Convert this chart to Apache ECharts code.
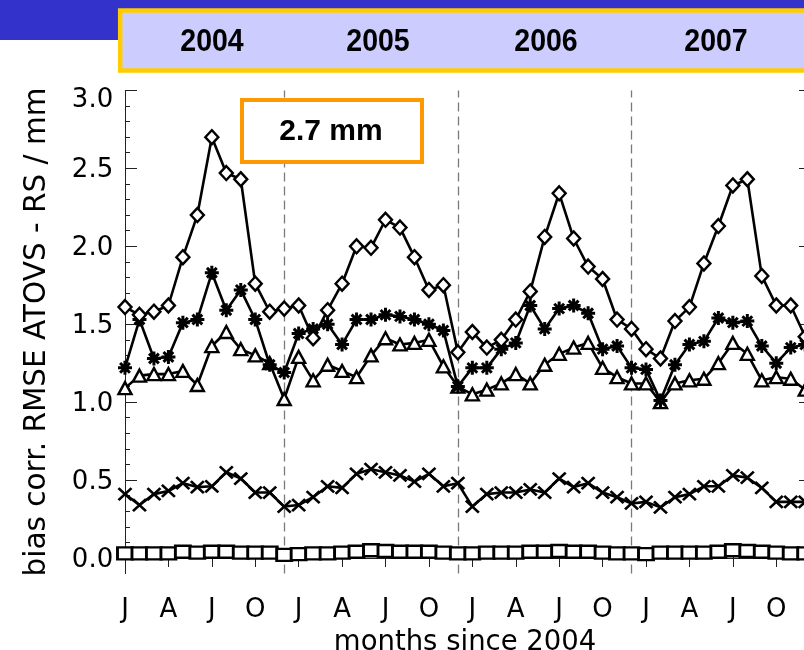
<!DOCTYPE html>
<html>
<head>
<meta charset="utf-8">
<title>bias corr. RMSE ATOVS - RS</title>
<script src="https://cdn.jsdelivr.net/npm/echarts@6/dist/echarts.min.js"></script>
<style>
  html, body { margin: 0; padding: 0; background: #fff; }
  #chart { width: 804px; height: 650px; }
</style>
</head>
<body>
<div id="chart"></div>
<script>
// Months since January 2004 (one point per month, Jan 2004 .. Dec 2007)
const months = [
  0, 1, 2, 3, 4, 5, 6, 7, 8, 9, 10, 11,
  12, 13, 14, 15, 16, 17, 18, 19, 20, 21, 22, 23,
  24, 25, 26, 27, 28, 29, 30, 31, 32, 33, 34, 35,
  36, 37, 38, 39, 40, 41, 42, 43, 44, 45, 46, 47
];

// Monthly bias-corrected RMSE (mm), one array per marker type
const diamondSeries = [
  1.61, 1.56, 1.58, 1.62, 1.93, 2.20, 2.70, 2.47, 2.43, 1.76, 1.58, 1.60,
  1.62, 1.41, 1.59, 1.76, 2.00, 1.99, 2.17, 2.12, 1.93, 1.72, 1.75, 1.32,
  1.45, 1.35, 1.40, 1.53, 1.71, 2.06, 2.34, 2.05, 1.87, 1.79, 1.53, 1.47,
  1.34, 1.28, 1.52, 1.61, 1.89, 2.13, 2.39, 2.43, 1.81, 1.62, 1.62, 1.42
];
const asteriskSeries = [
  1.22, 1.53, 1.28, 1.29, 1.51, 1.53, 1.83, 1.59, 1.72, 1.53, 1.24, 1.19,
  1.44, 1.47, 1.50, 1.37, 1.53, 1.53, 1.56, 1.55, 1.53, 1.50, 1.46, 1.10,
  1.22, 1.22, 1.34, 1.38, 1.62, 1.47, 1.60, 1.62, 1.57, 1.34, 1.36, 1.22,
  1.21, 1.01, 1.24, 1.37, 1.39, 1.54, 1.51, 1.52, 1.36, 1.25, 1.35, 1.37
];
const triangleSeries = [
  1.09, 1.17, 1.18, 1.18, 1.20, 1.11, 1.36, 1.45, 1.34, 1.30, 1.25, 1.02,
  1.29, 1.14, 1.24, 1.20, 1.16, 1.30, 1.41, 1.37, 1.38, 1.40, 1.23, 1.10,
  1.05, 1.08, 1.12, 1.18, 1.12, 1.24, 1.31, 1.35, 1.38, 1.22, 1.16, 1.12,
  1.12, 1.00, 1.12, 1.14, 1.15, 1.25, 1.38, 1.31, 1.14, 1.16, 1.15, 1.08
];
const crossSeries = [
  0.41, 0.34, 0.41, 0.43, 0.48, 0.455, 0.46, 0.55, 0.51, 0.42, 0.42, 0.33,
  0.34, 0.39, 0.46, 0.45, 0.54, 0.57, 0.55, 0.53, 0.49, 0.54, 0.46, 0.48,
  0.33, 0.41, 0.42, 0.42, 0.44, 0.42, 0.51, 0.455, 0.48, 0.42, 0.39, 0.35,
  0.36, 0.325, 0.39, 0.41, 0.46, 0.46, 0.53, 0.515, 0.45, 0.36, 0.36, 0.36
];
const squareSeries = [
  0.03, 0.03, 0.03, 0.03, 0.04, 0.035, 0.04, 0.04, 0.035, 0.035, 0.035, 0.02,
  0.025, 0.03, 0.03, 0.035, 0.04, 0.05, 0.045, 0.04, 0.04, 0.04, 0.035, 0.03,
  0.03, 0.035, 0.035, 0.035, 0.04, 0.04, 0.045, 0.04, 0.04, 0.035, 0.03, 0.03,
  0.025, 0.035, 0.035, 0.035, 0.035, 0.04, 0.05, 0.045, 0.04, 0.035, 0.03, 0.03
];

// Axis ticks and labels
const monthTicks = [0, 3, 6, 9, 12, 15, 18, 21, 24, 27, 30, 33, 36, 39, 42, 45];
const monthTickLabels = ['J', 'A', 'J', 'O', 'J', 'A', 'J', 'O', 'J', 'A', 'J', 'O', 'J', 'A', 'J', 'O'];
const valueTicks = [0.0, 0.5, 1.0, 1.5, 2.0, 2.5, 3.0];
const valueMinorTicks = [0.1, 0.2, 0.3, 0.4, 0.6, 0.7, 0.8, 0.9, 1.1, 1.2, 1.3, 1.4,
  1.6, 1.7, 1.8, 1.9, 2.1, 2.2, 2.3, 2.4, 2.6, 2.7, 2.8, 2.9];
const yearBreaks = [11, 23, 35];          // December of 2004, 2005, 2006
const yearTitles = ['2004', '2005', '2006', '2007'];
const peakNote = '2.7 mm';

const pairs = (vals) => months.map((m, i) => [m, vals[i]]);

const AXIS_FONT = '"DejaVu Sans", "Liberation Sans", Arial, sans-serif';
const BOLD_FONT = '"Liberation Sans", Arial, Helvetica, sans-serif';
const frame = { show: true, lineStyle: { color: '#222', width: 1 } };

const chart = echarts.init(document.getElementById('chart'), null, { renderer: 'canvas' });

function lineSeries(name, vals, symbol, size, hollow, z, stroke) {
  return {
    name: name,
    type: 'line',
    data: pairs(vals),
    xAxisIndex: 0,
    yAxisIndex: 0,
    symbol: symbol,
    symbolSize: size,
    showAllSymbol: true,
    z: z,
    lineStyle: { color: '#000', width: 2.6 },
    itemStyle: hollow
      ? { color: '#fff', borderColor: '#000', borderWidth: stroke }
      : { color: '#000', borderColor: '#000', borderWidth: stroke },
    emphasis: { disabled: true },
    animation: false
  };
}

const series = [
  lineSeries('diamond', diamondSeries, 'diamond', [13, 14], true, 5, 2.4),
  lineSeries('asterisk', asteriskSeries,
    'path://M6,0L6,12M0,6L12,6M1.8,1.8L10.2,10.2M10.2,1.8L1.8,10.2', [14, 14], false, 4, 3),
  lineSeries('triangle', triangleSeries, 'triangle', [13, 12], true, 3, 2.4),
  lineSeries('cross', crossSeries, 'path://M0,0L10,10M10,0L0,10', [13, 12], false, 3, 2.6),
  lineSeries('square', squareSeries, 'rect', [15, 12], true, 3, 2.6)
];

// dashed year separators
series[0].markLine = {
  silent: true,
  symbol: 'none',
  label: { show: false },
  lineStyle: { color: '#7a7a7a', width: 1.3, type: [9, 5] },
  data: yearBreaks.map((m) => ({ xAxis: m })),
  z: 1,
  animation: false
};

const yearCenters = [212, 378, 546, 716];

chart.setOption({
  backgroundColor: '#fff',
  animation: false,
  grid: { left: 119.2, top: 90.4, width: 691.8, height: 483.2, outerBoundsMode: 'none' },
  xAxis: [
    {
      type: 'value', position: 'bottom', min: -0.4, max: 47.4,
      axisLine: frame,
      axisTick: { inside: true, length: 9, customValues: monthTicks, lineStyle: { color: '#222' } },
      axisLabel: {
        customValues: monthTicks,
        formatter: (v) => monthTickLabels[monthTicks.indexOf(v)],
        fontFamily: AXIS_FONT, fontSize: 26, color: '#000', margin: 24
      },
      splitLine: { show: false },
      name: 'months since 2004', nameLocation: 'middle', nameGap: 42,
      nameTextStyle: { fontFamily: AXIS_FONT, fontSize: 27.5, color: '#000' }
    },
    {
      type: 'value', position: 'top', min: -0.4, max: 47.4,
      axisLine: frame,
      axisTick: { inside: true, length: 9, customValues: monthTicks, lineStyle: { color: '#222' } },
      axisLabel: { show: false },
      splitLine: { show: false }
    }
  ],
  yAxis: [
    {
      type: 'value', position: 'left', min: -0.1, max: 3.0,
      axisLine: frame,
      axisTick: { inside: true, length: 12, customValues: valueTicks, lineStyle: { color: '#222' } },
      axisLabel: {
        customValues: valueTicks,
        formatter: (v) => (v === 3 ? '{top|' + v.toFixed(1) + '}' : '{mid|' + v.toFixed(1) + '}'),
        rich: {
          top: { padding: [20, 0, 0, 0] },
          mid: { padding: [4, 0, 0, 0] }
        },
        fontFamily: AXIS_FONT, fontSize: 26, color: '#000', margin: 6
      },
      splitLine: { show: false },
      name: 'bias corr. RMSE ATOVS - RS / mm', nameLocation: 'middle', nameRotate: 90, nameGap: 67,
      nameTextStyle: { fontFamily: AXIS_FONT, fontSize: 29.5, color: '#000' }
    },
    {
      type: 'value', position: 'left', min: -0.1, max: 3.0,
      axisLine: frame,
      axisTick: { inside: true, length: 5, customValues: valueMinorTicks, lineStyle: { color: '#222' } },
      axisLabel: { show: false },
      splitLine: { show: false }
    },
    {
      type: 'value', position: 'right', min: -0.1, max: 3.0,
      axisLine: frame,
      axisTick: { inside: true, length: 12, customValues: valueTicks, lineStyle: { color: '#222' } },
      axisLabel: { show: false },
      splitLine: { show: false }
    },
    {
      type: 'value', position: 'right', min: -0.1, max: 3.0,
      axisLine: frame,
      axisTick: { inside: true, length: 5, customValues: valueMinorTicks, lineStyle: { color: '#222' } },
      axisLabel: { show: false },
      splitLine: { show: false }
    }
  ],
  series: series,
  graphic: [
    // blue header strip
    { type: 'rect', z: 100, shape: { x: 0, y: 0, width: 804, height: 40 }, style: { fill: '#3333cc' } },
    // year banner
    {
      type: 'rect', z: 101,
      shape: { x: 120.2, y: 10.5, width: 720, height: 60 },
      style: { fill: '#ccccff', stroke: '#ffcc00', lineWidth: 4.5 }
    },
    ...yearTitles.map((t, i) => ({
      type: 'text', z: 102, x: yearCenters[i], y: 42, scaleX: 0.92,
      style: {
        text: t, fill: '#000', font: 'bold 31px ' + BOLD_FONT,
        textAlign: 'center', textVerticalAlign: 'middle'
      }
    })),
    // peak annotation box
    {
      type: 'rect', z: 101,
      shape: { x: 242, y: 100, width: 180, height: 62 },
      style: { fill: '#fff', stroke: '#ff9900', lineWidth: 4 }
    },
    {
      type: 'text', z: 102, x: 331, y: 132,
      style: {
        text: peakNote, fill: '#000', font: 'bold 30px ' + BOLD_FONT,
        textAlign: 'center', textVerticalAlign: 'middle'
      }
    }
  ]
});
</script>
</body>
</html>
